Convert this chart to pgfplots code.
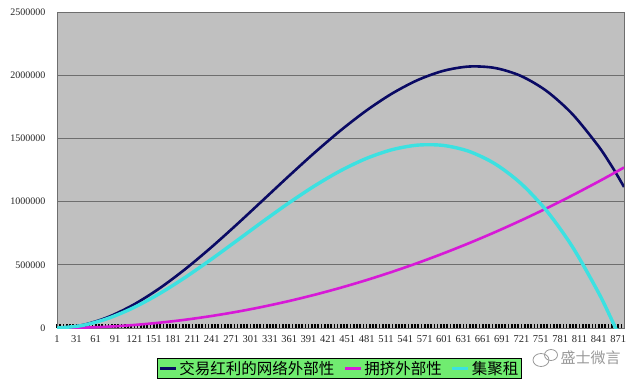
\documentclass[border=0pt]{standalone}
\usepackage{pgfplots}
\pgfplotsset{compat=1.18}
\usepackage{pgfplotstable}
\usepackage{fontspec}
\setmainfont{Liberation Serif}
\newfontfamily\cjk{Noto Sans CJK SC}
\definecolor{bggray}{RGB}{192,192,192}
\definecolor{gridgray}{RGB}{110,110,110}
\definecolor{navyline}{RGB}{10,10,100}
\definecolor{magline}{RGB}{215,25,215}
\definecolor{cyanline}{RGB}{60,225,225}
\definecolor{leggreen}{RGB}{112,236,112}
\pgfplotstableread{
n T P C
1 0 0 0
40 22519 2624 19895
80 86226 10496 75730
120 185345 23616 161729
160 314102 41984 272118
200 466720 65600 401120
240 637425 94464 542961
280 820440 128576 691864
320 1009991 167936 842055
360 1200304 212544 987760
400 1385600 262400 1123200
440 1560107 317504 1242603
480 1718046 377856 1340190
520 1853646 443456 1410190
560 1961129 514304 1446825
600 2034720 590400 1444320
640 2068644 671744 1396900
680 2057125 758336 1298789
720 1994388 850176 1144212
760 1874659 947264 927395
800 1692160 1049600 642560
840 1441118 1157184 283934
860 1288088 1212944 75144
870 1204379 1241316 -36937
880 1115755 1270016 -154261
}\datatable
\begin{document}
\begin{tikzpicture}[x=1bp,y=1bp]
\useasboundingbox (0,0) rectangle (640,385);
\begin{axis}[
  scale only axis,
  width=567bp, height=316bp,
  at={(57bp,57bp)}, anchor=south west,
  xmin=1, xmax=880, ymin=0, ymax=2500000,
  clip=true,
  axis background/.style={fill=bggray},
  axis line style={draw=gridgray, line width=0.8bp},
  ymajorgrids, grid style={draw=gridgray, line width=0.9bp},
  xtick={1,31,...,871},
  xticklabels={1,31,61,91,121,151,181,211,241,271,301,331,361,391,421,451,481,511,541,571,601,631,661,691,721,751,781,811,841,871},
  minor xtick={1,6,...,880},
  xtick pos=bottom, ytick pos=left,
  every major x tick/.style={draw=none},
  every minor x tick/.style={draw=black, line width=1.7bp},
  minor tick length=4bp,
  ytick={0,500000,1000000,1500000,2000000,2500000},
  yticklabels={0,500000,1000000,1500000,2000000,2500000},
  every major y tick/.style={draw=none},
  major tick length=3bp,
  tick align=inside,
  scaled y ticks=false,
  /pgf/number format/assume math mode=true,
  xticklabel style={font=\fontsize{10.5bp}{12bp}\selectfont, text=black!85, yshift=-4bp, inner xsep=0pt},
  yticklabel style={font=\fontsize{10bp}{12bp}\selectfont, text=black!85, xshift=-8bp},
  legend columns=3,
  legend style={at={(0.498,-0.128)}, anchor=center, fill=leggreen, draw=black, line width=0.8bp,
    font=\cjk\fontsize{15.5bp}{17bp}\selectfont, inner sep=1bp,
    /tikz/every even column/.append style={column sep=7bp}},
  legend image code/.code={\draw[#1, line width=3bp] (0bp,0bp) -- (16bp,0bp);},
]
\addplot[navyline, line width=2.6bp, smooth] table[x=n, y=T] {\datatable};
\addlegendentry{交易红利的网络外部性}
\addplot[magline, line width=2.6bp, smooth] table[x=n, y=P] {\datatable};
\addlegendentry{拥挤外部性}
\addplot[cyanline, line width=3.4bp, smooth] table[x=n, y=C] {\datatable};
\addlegendentry{集聚租}
\end{axis}
\node[anchor=west, text=black!40, font=\cjk\fontsize{15bp}{17bp}\selectfont] at (557,27) {盛士微言};
\draw[black!40, line width=0.8bp] (541,25) ellipse (8bp and 6.5bp);
\draw[black!40, line width=0.8bp] (551,30) ellipse (6.5bp and 5.5bp);
\end{tikzpicture}
\end{document}
